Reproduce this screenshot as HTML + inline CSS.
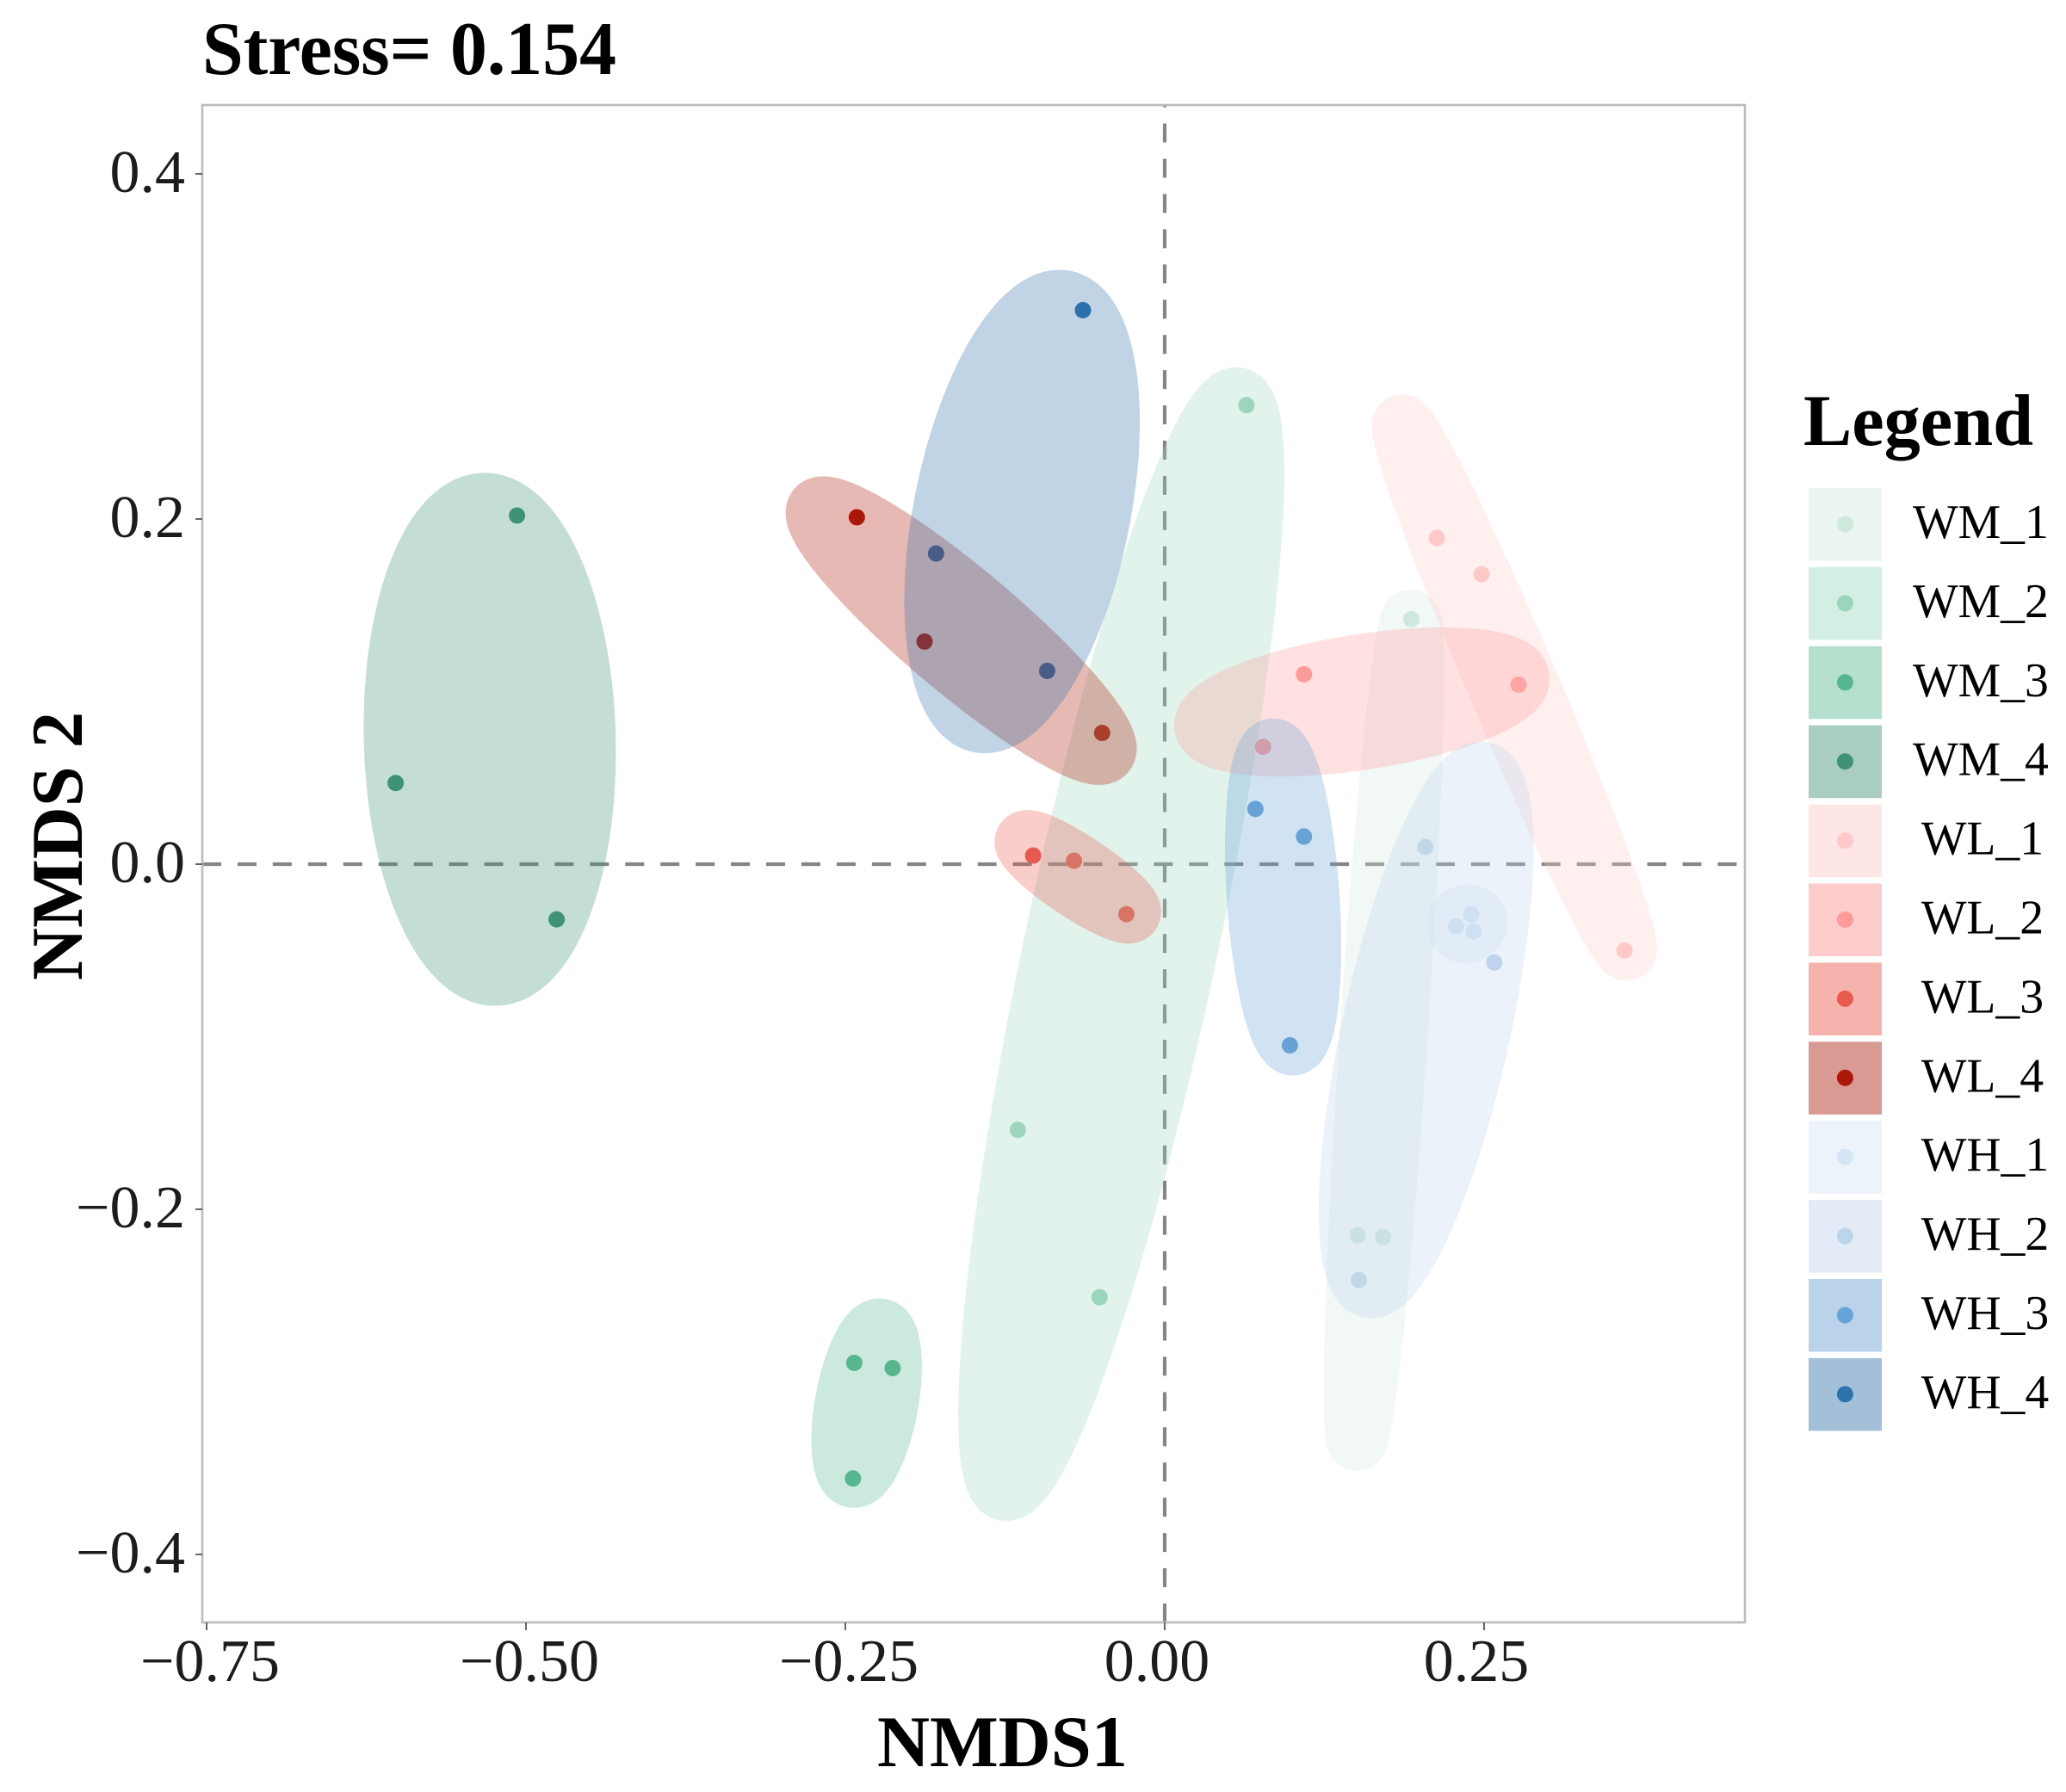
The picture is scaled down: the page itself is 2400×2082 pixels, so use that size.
<!DOCTYPE html>
<html lang="en">
<head>
<meta charset="utf-8">
<title>NMDS ordination, Stress = 0.154</title>
<style>
html,body{margin:0;padding:0;background:#fff;}
#chart{display:block;width:2400px;height:2082px;font-family:"Liberation Serif",serif;}
</style>
</head>
<body>
<svg id="chart" xmlns="http://www.w3.org/2000/svg" width="2400" height="2082" viewBox="0 0 2400 2082">
  <rect x="0" y="0" width="2400" height="2082" fill="#ffffff"/>
  <g id="points-layer"></g>
  <g id="reference-lines"></g>
  <g id="ellipses-layer"></g>
  <g id="axes-layer"></g>
  <g id="legend-layer"></g>
  <text x="235" y="86" font-size="88" font-weight="700" fill="#000" textLength="481" lengthAdjust="spacingAndGlyphs">Stress= 0.154</text>
  <text x="1019" y="2052" font-size="84.5" font-weight="700" fill="#000">NMDS1</text>
  <text transform="translate(95 1139) rotate(-90)" font-size="84.5" font-weight="700" fill="#000">NMDS 2</text>
  <text x="2095" y="517" font-size="84.3" font-weight="700" fill="#000">Legend</text>
</svg>
<script>
// ---- chart data ----
const groupNames = ["WM_1","WM_2","WM_3","WM_4","WL_1","WL_2","WL_3","WL_4","WH_1","WH_2","WH_3","WH_4"];
const wm1X = [0.193, 0.151, 0.171];     const wm1Y = [0.142, -0.215, -0.216];
const wm2X = [0.064, -0.115, -0.051];   const wm2Y = [0.266, -0.154, -0.251];
const wm3X = [-0.243, -0.213, -0.244];  const wm3Y = [-0.289, -0.292, -0.356];
const wm4X = [-0.507, -0.602, -0.476];  const wm4Y = [0.202, 0.047, -0.032];
const wl1X = [0.213, 0.248, 0.360];     const wl1Y = [0.189, 0.168, -0.050];
const wl2X = [0.109, 0.277, 0.077];     const wl2Y = [0.110, 0.104, 0.068];
const wl3X = [-0.103, -0.071, -0.030];  const wl3Y = [0.005, 0.002, -0.029];
const wl4X = [-0.241, -0.188, -0.049];  const wl4Y = [0.201, 0.129, 0.076];
const wh1X = [0.240, 0.228, 0.242];     const wh1Y = [-0.029, -0.036, -0.039];
const wh2X = [0.204, 0.258, 0.152];     const wh2Y = [0.010, -0.057, -0.241];
const wh3X = [0.071, 0.109, 0.098];     const wh3Y = [0.032, 0.016, -0.105];
const wh4X = [-0.064, -0.179, -0.092];  const wh4Y = [0.321, 0.180, 0.112];
const seriesX = [wm1X, wm2X, wm3X, wm4X, wl1X, wl2X, wl3X, wl4X, wh1X, wh2X, wh3X, wh4X];
const seriesY = [wm1Y, wm2Y, wm3Y, wm4Y, wl1Y, wl2Y, wl3Y, wl4Y, wh1Y, wh2Y, wh3Y, wh4Y];
const xTickValues = [-0.75, -0.5, -0.25, 0, 0.25];
const xTickLabels = ["\u22120.75", "\u22120.50", "\u22120.25", "0.00", "0.25"];
const yTickValues = [0.4, 0.2, 0, -0.2, -0.4];
const yTickLabels = ["0.4", "0.2", "0.0", "\u22120.2", "\u22120.4"];

// ---- styling ----
const groupColors = ["#cfe9dd","#9bd6bc","#56b68f","#3f9374","#ffc9c9","#ff9a9a","#e95b50","#ab1807","#d6e5f5","#bdd5ec","#67a3d6","#2d72ab"];
const keyColors = ["#eaf5f1","#d3eee2","#b5e0cd","#a9cec0","#ffe6e6","#ffcccc","#f6b2ac","#d99a94","#ecf3fb","#e3ecf6","#bbd3ea","#a4c0d9"];
const markExpand = 34; // outward offset of each enclosing ellipse, screen px

// ---- axis functions ----
const panel = {left: 235, right: 2027, top: 122, bottom: 1885};
function xScale(v) { return 1353 + v * 1484; }
function yScale(v) { return 1004 - v * 2005; }

const NS = "http://www.w3.org/2000/svg";
function mk(parent, tag, geom) {
  const e = document.createElementNS(NS, tag);
  for (const k in geom) e.setAttribute(k, geom[k]);
  parent.appendChild(e);
  return e;
}
function slug(name) { return name.toLowerCase().replace("_", "-"); }

const pointsLayer = document.getElementById("points-layer");
const linesLayer = document.getElementById("reference-lines");
const ellipsesLayer = document.getElementById("ellipses-layer");
const axesLayer = document.getElementById("axes-layer");
const legendLayer = document.getElementById("legend-layer");

// points (drawn under the translucent ellipses)
groupNames.forEach((name, g) => {
  seriesX[g].forEach((vx, i) => {
    const c = mk(pointsLayer, "circle", {cx: xScale(vx), cy: yScale(seriesY[g][i]), r: 9.5, fill: groupColors[g]});
    
    
  });
});

// dashed reference lines
const hLine = mk(linesLayer, "line", {x1: panel.left, x2: panel.right, y1: yScale(0), y2: yScale(0), stroke: "#858585", "stroke-width": 4.2, "stroke-dasharray": "22 18.94"});


const vLine = mk(linesLayer, "line", {x1: xScale(0), x2: xScale(0), y1: panel.bottom, y2: panel.top, stroke: "#858585", "stroke-width": 4.2, "stroke-dasharray": "22 18.94"});



// enclosing marks: minimum-area ellipse through each group's three points
// (in screen space), grown outward by a constant offset
groupNames.forEach((name, g) => {
  const px = seriesX[g].map(xScale);
  const py = seriesY[g].map(yScale);
  const mx = (px[0] + px[1] + px[2]) / 3;
  const my = (py[0] + py[1] + py[2]) / 3;
  const ax = px[0] - mx, ay = py[0] - my;
  const bx = (px[1] - px[2]) / Math.sqrt(3), by = (py[1] - py[2]) / Math.sqrt(3);
  const orient = (ax * by - ay * bx) >= 0 ? 1 : -1;
  let d = "";
  const steps = 720;
  for (let k = 0; k < steps; k++) {
    const t = k / steps * 2 * Math.PI;
    const c = Math.cos(t), s = Math.sin(t);
    const dx = -ax * s + bx * c, dy = -ay * s + by * c;
    const len = Math.hypot(dx, dy) || 1;
    const x = mx + ax * c + bx * s + orient * markExpand * dy / len;
    const y = my + ay * c + by * s - orient * markExpand * dx / len;
    d += (k ? "L" : "M") + x.toFixed(1) + " " + y.toFixed(1);
  }
  const p = mk(ellipsesLayer, "path", {d: d + "Z", fill: groupColors[g], "fill-opacity": 0.3});
  
  
});

// panel border
const frame = mk(axesLayer, "rect", {x: panel.left, y: panel.top, width: panel.right - panel.left, height: panel.bottom - panel.top, fill: "none", stroke: "#bcbcbc", "stroke-width": 2.6});



// x axis
xTickValues.forEach((v, i) => {
  const t = mk(axesLayer, "line", {x1: xScale(v), x2: xScale(v), y1: panel.bottom, y2: panel.bottom + 9, stroke: "#555", "stroke-width": 1.8});
  
  
  const l = mk(axesLayer, "text", {x: xScale(v) + (v < 0 ? 4 : -9), y: 1953, "font-size": 70, "text-anchor": "middle", fill: "#1c1c1c"});
  l.textContent = xTickLabels[i];
  
  
});

// y axis
yTickValues.forEach((v, i) => {
  const t = mk(axesLayer, "line", {x1: panel.left - 8, x2: panel.left, y1: yScale(v), y2: yScale(v), stroke: "#555", "stroke-width": 1.8});
  
  
  const l = mk(axesLayer, "text", {x: 215, y: yScale(v) + 21, "font-size": 70, "text-anchor": "end", fill: "#1c1c1c"});
  l.textContent = yTickLabels[i];
  
  
});

// legend
groupNames.forEach((name, g) => {
  const top = 567 + 91.9 * g;
  const entry = mk(legendLayer, "g", {});
  
  
  const key = mk(entry, "rect", {x: 2101, y: top, width: 85, height: 84.5, fill: keyColors[g]});
  
  
  const dot = mk(entry, "circle", {cx: 2143.4, cy: top + 42, r: 9.5, fill: groupColors[g]});
  
  
  const labelCentre = name[1] === "M" ? 2301 : (name[1] === "L" ? 2303 : 2306);
  const label = mk(entry, "text", {x: labelCentre, y: top + 58, "font-size": 55.7, "text-anchor": "middle", fill: "#000"});
  label.textContent = name;
  
  
});
</script>
</body>
</html>
